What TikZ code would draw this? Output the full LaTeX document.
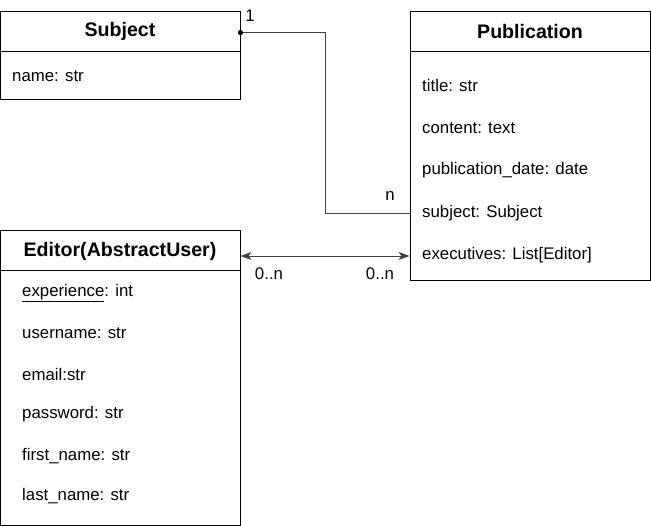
\documentclass[tikz,border=0pt]{standalone}
\usepackage{fontspec}
\setmainfont{Liberation Sans}
\usetikzlibrary{arrows.meta}
\begin{document}
\begin{tikzpicture}[x=1pt,y=-1pt,
  box/.style={draw=black,line width=0.9pt,inner sep=0pt,minimum width=240pt},
  head/.style={font=\fontsize{19.6}{22}\selectfont\bfseries,anchor=center},
  fld/.style={font=\fontsize{16.8}{19}\selectfont,anchor=west,inner sep=0pt},
  lbl/.style={font=\fontsize{16.8}{19}\selectfont,inner sep=0pt},
  conn/.style={draw=black!75,line width=0.9pt},
  mytip/.tip={Stealth[length=11pt,width=8pt,inset=3pt]}]
\useasboundingbox (0,0) rectangle (651,526);
% Subject
\node[box,minimum height=88pt] (subj) at (120,55) {};
\draw[line width=0.9pt] (0,51) -- (240,51);
\node[head] (subjh) at (120,31) {Subject};
\node[fld] (sname) at (12,76) {name: str};
% Publication
\node[box,minimum height=269pt] (pub) at (530,145.5) {};
\draw[line width=0.9pt] (410,51) -- (650,51);
\node[head] (pubh) at (530,31) {Publication};
\node[fld] (ptitle) at (422,85) {title: str};
\node[fld] (pcont) at (422,128) {content: text};
\node[fld] (pdate) at (422,170) {publication\_date: date};
\node[fld] (psubj) at (422,213) {subject: Subject};
\node[fld] (pexec) at (422,255) {executives: List[Editor]};
% Editor
\node[box,minimum height=295pt] (ed) at (120,377.5) {};
\draw[line width=0.9pt] (0,270) -- (240,270);
\node[head] (edh) at (120,251) {Editor(AbstractUser)};
\node[fld] (e1) at (22,293) {\underline{experience}: int};
\node[fld] (e2) at (22,333) {username: str};
\node[fld] (e3) at (22,374) {email:str};
\node[fld] (e4) at (22,414) {password: str};
\node[fld] (e5) at (22,456) {first\_name: str};
\node[fld] (e6) at (22,496) {last\_name: str};
% connectors
\coordinate (sa) at ([yshift=-22pt]subj.north east);
\draw[conn] (sa) -| (325,213) -- (pub.west |- psubj);
\fill[black] (sa) circle (2.6pt);
\node[lbl] (l1) at (250,16) {1};
\node[lbl] (ln) at (390,196) {n};
\draw[conn,mytip-mytip] (ed.east |- 0,256) -- (pub.west |- 0,256);
\node[lbl] (l2) at (269,274) {0..n};
\node[lbl] (l3) at (380,274) {0..n};
\end{tikzpicture}
\end{document}
